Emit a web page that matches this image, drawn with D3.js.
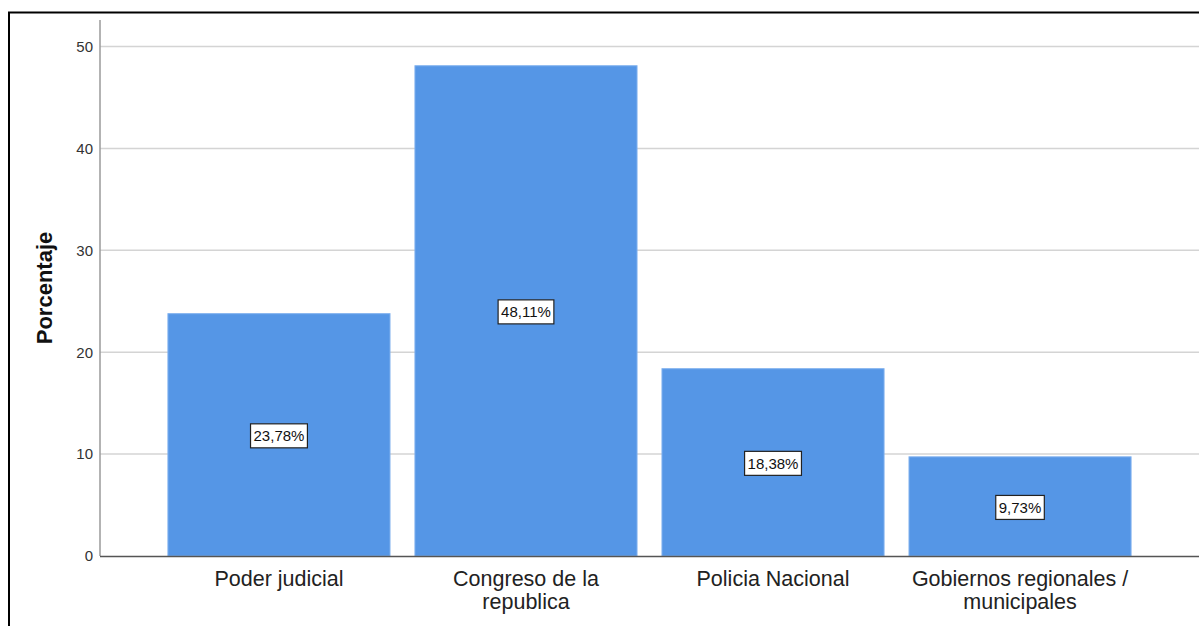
<!DOCTYPE html>
<html>
<head>
<meta charset="utf-8">
<script src="https://cdn.jsdelivr.net/npm/d3@7"></script>
<style>
  html, body { margin: 0; padding: 0; background: #fff; }
  svg { display: block; }
</style>
</head>
<body>
<svg id="chart" width="1199" height="626"></svg>
<script>
const categories = [["Poder judicial"], ["Congreso de la", "republica"], ["Policia Nacional"], ["Gobiernos regionales /", "municipales"]];
const values = [23.78, 48.11, 18.38, 9.73];
const valueLabels = ["23,78%", "48,11%", "18,38%", "9,73%"];
const yTicks = [0, 10, 20, 30, 40, 50];
const yTitle = "Porcentaje";

const svg = d3.select("#chart");
const W = 1199, H = 626;
const FONT = "Arial, 'Liberation Sans', sans-serif";

// frame
svg.append("line").attr("x1", 8).attr("x2", W).attr("y1", 12.5).attr("y2", 12.5)
  .attr("stroke", "#000").attr("stroke-width", 2);
svg.append("line").attr("x1", 9).attr("x2", 9).attr("y1", 12).attr("y2", H)
  .attr("stroke", "#000").attr("stroke-width", 2);

const x0 = 100, xEnd = W;
const y = d3.scaleLinear().domain([0, 50]).range([556, 46.5]);
const x = d3.scaleBand().domain(d3.range(categories.length))
  .range([x0, xEnd]).paddingInner(0.101).paddingOuter(0.275);

// gridlines
svg.append("g").selectAll("line").data(yTicks.filter(d => d > 0)).join("line")
  .attr("x1", x0).attr("x2", xEnd)
  .attr("y1", d => y(d)).attr("y2", d => y(d))
  .attr("stroke", "#d4d4d4").attr("stroke-width", 1.5);

// y axis
const yAxis = d3.axisLeft(y).tickValues(yTicks).tickSize(0).tickPadding(7);
const gy = svg.append("g").attr("transform", `translate(${x0},0)`).call(yAxis);
gy.select(".domain").remove();
gy.selectAll("text").attr("font-family", FONT)
  .attr("font-size", 15).attr("fill", "#333");
svg.append("line").attr("x1", x0).attr("x2", x0).attr("y1", 20).attr("y2", 556)
  .attr("stroke", "#9a9a9a").attr("stroke-width", 1.5);

// bars
svg.append("g").selectAll("rect").data(values).join("rect")
  .attr("x", (d, i) => x(i)).attr("width", x.bandwidth())
  .attr("y", d => y(d)).attr("height", d => y(0) - y(d))
  .attr("fill", "#5596e6").attr("stroke", "#7fb0ee").attr("stroke-width", 1);

// x axis line
svg.append("line").attr("x1", x0).attr("x2", xEnd).attr("y1", 556.5).attr("y2", 556.5)
  .attr("stroke", "#555").attr("stroke-width", 1.3);

// value labels
const lg = svg.append("g").selectAll("g").data(values).join("g")
  .attr("transform", (d, i) => `translate(${x(i) + x.bandwidth() / 2},${y(d / 2) + 1})`);
lg.each(function(d, i) {
  const g = d3.select(this);
  const t = g.append("text").text(valueLabels[i])
    .attr("text-anchor", "middle").attr("dy", "0.36em")
    .attr("font-family", FONT)
    .attr("font-size", 15).attr("fill", "#111");
  const bb = t.node().getBBox();
  g.insert("rect", "text")
    .attr("x", bb.x - 3).attr("y", -12).attr("width", bb.width + 6).attr("height", 24)
    .attr("fill", "#fff").attr("stroke", "#222").attr("stroke-width", 1.2);
});

// category labels
const cg = svg.append("g").selectAll("text").data(categories).join("text")
  .attr("text-anchor", "middle")
  .attr("font-family", FONT)
  .attr("font-size", 21.5).attr("fill", "#222")
  .attr("transform", (d, i) => `translate(${x(i) + x.bandwidth() / 2},586)`);
cg.selectAll("tspan").data(d => d).join("tspan")
  .attr("x", 0).attr("dy", (d, j) => j === 0 ? 0 : 23).text(d => d);

// y title
svg.append("text").text(yTitle)
  .attr("transform", "translate(52,288) rotate(-90)")
  .attr("text-anchor", "middle")
  .attr("font-family", FONT)
  .attr("font-size", 22).attr("font-weight", "bold").attr("fill", "#111");
</script>
</body>
</html>
